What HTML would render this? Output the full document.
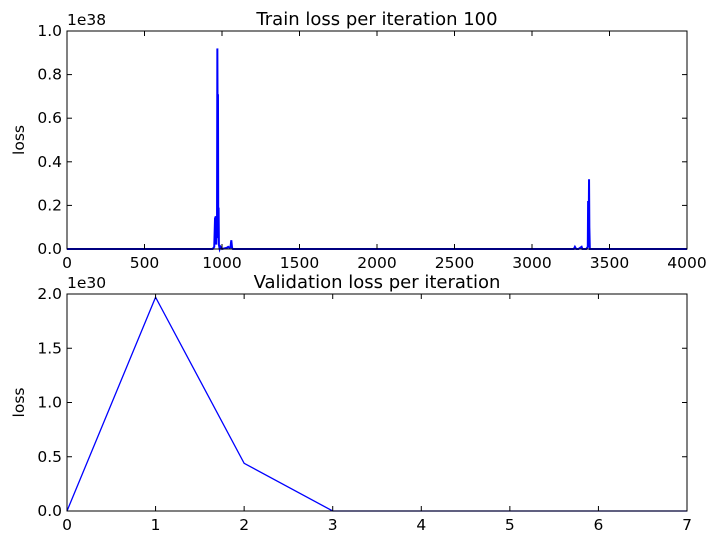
<!DOCTYPE html>
<html><head><meta charset="utf-8"><style>
body{margin:0;background:#fff}
svg{display:block;font-family:"DejaVu Sans","Liberation Sans",sans-serif}
</style></head><body>
<svg id="c" width="717" height="545"></svg>
<script>
const trainIter=[0,900,940,950,955,960,963,966,968,970,972,974,976,978,980,985,990,1000,1030,1040,1050,1055,1060,1065,1070,1100,3200,3270,3277,3285,3300,3320,3325,3330,3350,3360,3362,3365,3368,3370,3373,3376,3380,3400,4000];
const trainLoss=[0,0,0,0.01,0.14,0.15,0.02,0.1,0.14,0.92,0.5,0.71,0.05,0.19,0.02,0,0.01,0,0.005,0.01,0.005,0.01,0.04,0.005,0,0,0,0,0.01,0,0,0.01,0,0,0,0.01,0.22,0.03,0.32,0.1,0,0,0,0,0];
const trainXTicks=[0,500,1000,1500,2000,2500,3000,3500,4000];
const trainYTicks=[0,0.2,0.4,0.6,0.8,1.0];
const valEpoch=[0,1,2,3,4,5,6,7];
const valLoss=[0,1.97,0.44,0,0,0,0,0];
const valXTicks=[0,1,2,3,4,5,6,7];
const valYTicks=[0,0.5,1.0,1.5,2.0];
const NS="http://www.w3.org/2000/svg";
const svg=document.getElementById('c');
function mk(t,a,p){const e=document.createElementNS(NS,t);for(const k in a)e.setAttribute(k,a[k]);(p||svg).appendChild(e);return e;}
function panel(o){
  const g=mk('g',{});
  
  
  const sx=v=>o.x0+(v-o.xmin)/(o.xmax-o.xmin)*(o.x1-o.x0);
  const sy=v=>o.y1-(v-o.ymin)/(o.ymax-o.ymin)*(o.y1-o.y0);
  const pts=o.xs.map((x,i)=>sx(x).toFixed(2)+','+sy(o.ys[i]).toFixed(2)).join(' ');
  const l=mk('polyline',{points:pts,fill:'none',stroke:'#0000ff','stroke-width':o.sw,'stroke-linejoin':'miter'},g);
  
  
  const r=mk('rect',{x:o.x0,y:o.y0,width:o.x1-o.x0,height:o.y1-o.y0,fill:'none',stroke:'#000','stroke-width':1},g);
  
  
  o.xt.forEach(v=>{const x=sx(v);
    mk('line',{x1:x,x2:x,y1:o.y1,y2:o.y1-5,stroke:'#000'},g);
    mk('line',{x1:x,x2:x,y1:o.y0,y2:o.y0+5,stroke:'#000'},g);
    const t=mk('text',{x:x,y:o.y1+19,'font-size':15.5,'text-anchor':'middle'},g);t.textContent=v;
    
    });
  o.yt.forEach(v=>{const y=sy(v);
    mk('line',{x1:o.x0,x2:o.x0+5,y1:y,y2:y,stroke:'#000'},g);
    mk('line',{x1:o.x1,x2:o.x1-5,y1:y,y2:y,stroke:'#000'},g);
    const t=mk('text',{x:o.x0-5,y:y+5,'font-size':15.5,'text-anchor':'end'},g);t.textContent=v.toFixed(1);
    
    });
  const ti=mk('text',{x:(o.x0+o.x1)/2,y:o.y0-6,'font-size':18,'text-anchor':'middle'},g);ti.textContent=o.title;
  
  
  const ex=mk('text',{x:o.x0,y:o.y0-6,'font-size':15.5},g);ex.textContent=o.exp;
  
  
  const yl=mk('text',{x:0,y:0,'font-size':15.5,'text-anchor':'middle',transform:`translate(24,${(o.y0+o.y1)/2}) rotate(-90)`},g);yl.textContent='loss';
  
  
}
panel({name:'train-loss-chart',x0:67,x1:687,y0:31,y1:249,xmin:0,xmax:4000,ymin:0,ymax:1,xs:trainIter,ys:trainLoss,xt:trainXTicks,yt:trainYTicks,title:'Train loss per iteration 100',exp:'1e38',sw:2});
panel({name:'validation-loss-chart',x0:67,x1:687,y0:294,y1:511,xmin:0,xmax:7,ymin:0,ymax:2,xs:valEpoch,ys:valLoss,xt:valXTicks,yt:valYTicks,title:'Validation loss per iteration',exp:'1e30',sw:1.3});
</script>
</body></html>
